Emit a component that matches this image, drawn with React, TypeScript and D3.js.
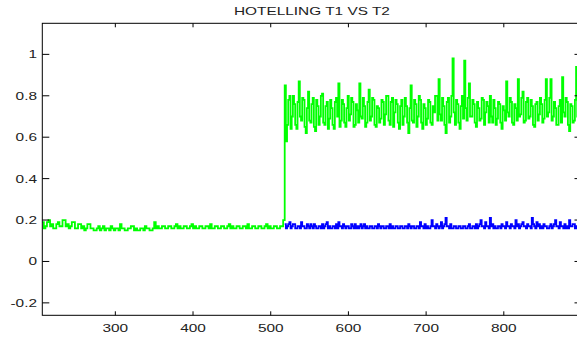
import React from "react";
import * as d3 from "d3";

// Chart size
const width = 577;
const height = 337;

// Samples of the low part of T1 (green), before the shift
const lowStart = 206;
const lowStep = 2;
const greenLow = [
  0.19, 0.16, 0.17, 0.19, 0.2, 0.17, 0.18, 0.16, 0.16, 0.18, 0.19, 0.17, 0.17,
  0.2, 0.2, 0.17, 0.18, 0.16, 0.17, 0.19, 0.19, 0.16, 0.16, 0.18, 0.18, 0.16,
  0.17, 0.15, 0.16, 0.18, 0.18, 0.16, 0.16, 0.15, 0.15, 0.16, 0.17, 0.15, 0.16,
  0.17, 0.15, 0.16, 0.16, 0.15, 0.17, 0.16, 0.15, 0.16, 0.16, 0.15, 0.18, 0.16,
  0.16, 0.15, 0.15, 0.16, 0.16, 0.17, 0.17, 0.15, 0.16, 0.15, 0.15, 0.16, 0.16,
  0.15, 0.17, 0.16, 0.16, 0.15, 0.15, 0.16, 0.19, 0.16, 0.17, 0.16,
  0.16, 0.17, 0.17, 0.16, 0.16, 0.17, 0.17, 0.16, 0.16, 0.17, 0.18, 0.16, 0.17,
  0.16, 0.16, 0.17, 0.17, 0.16, 0.16, 0.17, 0.18, 0.16, 0.17, 0.16, 0.16, 0.17,
  0.17, 0.16, 0.16, 0.17, 0.17, 0.16, 0.18, 0.16, 0.16, 0.17, 0.17, 0.16, 0.16,
  0.17, 0.17, 0.16, 0.16, 0.17, 0.18, 0.16, 0.17, 0.16, 0.16, 0.17, 0.17, 0.16,
  0.16, 0.17, 0.17, 0.16, 0.18, 0.16, 0.16, 0.17, 0.17, 0.16, 0.16, 0.17, 0.17,
  0.16, 0.16, 0.17, 0.18, 0.16, 0.17, 0.16, 0.16, 0.17, 0.17, 0.16, 0.16, 0.17,
  0.17, 0.2,
];

// Samples after the shift (green = T1, blue = T2)
const highStart = 518;
const highStep = 1.5;
const greenHigh = [
  0.85, 0.58, 0.66, 0.78, 0.8, 0.64, 0.7, 0.8, 0.76, 0.66, 0.64, 0.77, 0.87, 0.7, 0.68, 0.79, 0.78, 0.65, 0.62, 0.74,
  0.82, 0.68, 0.67, 0.76, 0.79, 0.65, 0.63, 0.78, 0.75, 0.66, 0.7, 0.8, 0.81, 0.67, 0.66, 0.75, 0.77, 0.64, 0.69, 0.78,
  0.74, 0.66, 0.64, 0.77, 0.79, 0.7, 0.86, 0.65, 0.68, 0.78, 0.76, 0.67, 0.65, 0.74, 0.8, 0.68, 0.71, 0.79, 0.77, 0.65,
  0.66, 0.76, 0.73, 0.67, 0.86, 0.7, 0.69, 0.79, 0.75, 0.65, 0.67, 0.77, 0.83, 0.68, 0.7, 0.79, 0.78, 0.66, 0.65, 0.75,
  0.74, 0.67, 0.69, 0.78, 0.77, 0.66, 0.71, 0.8, 0.8, 0.68, 0.66, 0.77, 0.79, 0.65, 0.72, 0.78, 0.76, 0.67, 0.64, 0.75,
  0.78, 0.66, 0.7, 0.79, 0.75, 0.67, 0.62, 0.74, 0.85, 0.68, 0.67, 0.78, 0.76, 0.65, 0.7, 0.8, 0.78, 0.67, 0.64, 0.76,
  0.74, 0.66, 0.69, 0.78, 0.77, 0.67, 0.66, 0.75, 0.72, 0.8, 0.8, 0.68, 0.88, 0.71, 0.68, 0.79, 0.75, 0.66, 0.62, 0.77,
  0.79, 0.67, 0.7, 0.8, 0.98, 0.72, 0.66, 0.78, 0.76, 0.67, 0.64, 0.75, 0.8, 0.69, 0.97, 0.74, 0.68, 0.79, 0.86, 0.7,
  0.7, 0.78, 0.76, 0.67, 0.65, 0.77, 0.74, 0.68, 0.69, 0.79, 0.78, 0.66, 0.72, 0.77, 0.75, 0.67, 0.8, 0.7, 0.67, 0.78,
  0.74, 0.66, 0.69, 0.77, 0.76, 0.67, 0.64, 0.75, 0.73, 0.68, 0.87, 0.72, 0.7, 0.79, 0.77, 0.67, 0.66, 0.76, 0.74, 0.68,
  0.88, 0.7, 0.71, 0.79, 0.82, 0.67, 0.68, 0.77, 0.79, 0.69, 0.7, 0.78, 0.75, 0.66, 0.65, 0.76, 0.77, 0.68, 0.71, 0.79,
  0.76, 0.67, 0.69, 0.78, 0.88, 0.7, 0.72, 0.79, 0.88, 0.68, 0.7, 0.77, 0.74, 0.66, 0.66, 0.75, 0.78, 0.67, 0.89, 0.72,
  0.7, 0.79, 0.77, 0.66, 0.63, 0.76, 0.75, 0.67, 0.68, 0.78, 0.94, 0.7, 0.7, 0.79, 0.8, 0.68,
];
const blueHigh = [
  0.18, 0.16, 0.17, 0.18, 0.19, 0.16, 0.17, 0.18, 0.18, 0.16, 0.16, 0.17, 0.17, 0.16, 0.19, 0.17, 0.17, 0.16, 0.16, 0.18,
  0.17, 0.16, 0.18, 0.17, 0.16, 0.18, 0.17, 0.16, 0.16, 0.17, 0.17, 0.16, 0.18, 0.16, 0.17, 0.18, 0.19, 0.16, 0.17, 0.16,
  0.16, 0.17, 0.17, 0.16, 0.18, 0.16, 0.19, 0.17, 0.17, 0.16, 0.18, 0.17, 0.16, 0.17, 0.17, 0.16, 0.16, 0.18, 0.17, 0.16,
  0.18, 0.16, 0.17, 0.16, 0.17, 0.18, 0.16, 0.17, 0.18, 0.16, 0.17, 0.16, 0.16, 0.17, 0.17, 0.16, 0.16, 0.17, 0.17, 0.16,
  0.18, 0.17, 0.16, 0.17, 0.17, 0.16, 0.16, 0.17, 0.17, 0.16, 0.18, 0.16, 0.17, 0.16, 0.16, 0.17, 0.17, 0.16, 0.16, 0.17,
  0.17, 0.16, 0.16, 0.17, 0.17, 0.16, 0.18, 0.17, 0.16, 0.17, 0.17, 0.16, 0.16, 0.17, 0.17, 0.16, 0.19, 0.17, 0.17, 0.16,
  0.18, 0.16, 0.17, 0.16, 0.16, 0.17, 0.2, 0.17, 0.17, 0.16, 0.18, 0.17, 0.16, 0.17, 0.19, 0.16, 0.17, 0.18, 0.21, 0.17,
  0.17, 0.16, 0.18, 0.16, 0.16, 0.17, 0.17, 0.16, 0.16, 0.17, 0.17, 0.16, 0.16, 0.17, 0.17, 0.16, 0.16, 0.17, 0.18, 0.16,
  0.16, 0.17, 0.17, 0.16, 0.18, 0.16, 0.17, 0.18, 0.2, 0.17, 0.17, 0.16, 0.19, 0.17, 0.17, 0.16, 0.21, 0.17, 0.18, 0.16,
  0.17, 0.16, 0.16, 0.17, 0.17, 0.16, 0.18, 0.17, 0.17, 0.16, 0.19, 0.17, 0.17, 0.16, 0.18, 0.17, 0.17, 0.16, 0.2, 0.17,
  0.18, 0.16, 0.17, 0.18, 0.19, 0.17, 0.17, 0.16, 0.18, 0.17, 0.17, 0.16, 0.21, 0.18, 0.17, 0.16, 0.19, 0.17, 0.18, 0.16,
  0.17, 0.16, 0.18, 0.17, 0.17, 0.16, 0.16, 0.17, 0.18, 0.16, 0.17, 0.18, 0.2, 0.17, 0.17, 0.16, 0.19, 0.17, 0.17, 0.16,
  0.18, 0.16, 0.17, 0.16, 0.2, 0.17, 0.17, 0.18, 0.18, 0.16, 0.17, 0.16, 0.19, 0.17, 0.18, 0.17,
];

// Axis ticks
const xTicks = [300, 400, 500, 600, 700, 800];
const yTicks = [-0.2, 0, 0.2, 0.4, 0.6, 0.8, 1];
const title = "HOTELLING T1 VS T2";

// plot box (right side runs past the picture edge)
const left = 42.3;
const right = 581.5;
const top = 23.3;
const bottom = 315.3;

const x = d3.scaleLinear().domain([206, 900]).range([left, right]);
const y = d3.scaleLinear().domain([-0.26, 1.15]).range([bottom, top]);

const font = "'Liberation Sans', Arial, Helvetica, sans-serif";
const stretch = "scale(1.4,1)";

export default function App() {
  const greenPts: [number, number][] = greenLow
    .map((v, i) => [lowStart + i * lowStep, v] as [number, number])
    .concat(greenHigh.map((v, i) => [highStart + i * highStep, v] as [number, number]));
  const bluePts: [number, number][] = blueHigh.map(
    (v, i) => [highStart + i * highStep, v] as [number, number]
  );

  const line = d3
    .line<[number, number]>()
    .x((d) => x(d[0]))
    .y((d) => y(d[1]))
    .curve(d3.curveStepAfter);

  return (
    <svg
      width={width}
      height={height}
      style={{ position: "absolute", left: 0, top: 0, background: "#fff" }}
    >
      <defs>
        <clipPath id="plot">
          <rect x={left} y={top} width={right - left} height={bottom - top} />
        </clipPath>
      </defs>
      <rect width={width} height={height} fill="#fff" />

      <g clipPath="url(#plot)">
        <path d={line(bluePts) || ""} fill="none" stroke="#0000ff" strokeWidth={1.8} />
        <path d={line(greenPts) || ""} fill="none" stroke="#00ff00" strokeWidth={1.8} />
      </g>

      {/* box */}
      <rect
        x={left}
        y={top}
        width={right - left}
        height={bottom - top}
        fill="none"
        stroke="#000"
        strokeWidth={1}
      />

      {/* ticks, pointing inward on every side */}
      {xTicks.map((t) => (
        <g key={"xt" + t} stroke="#000" strokeWidth={1}>
          <line x1={x(t)} x2={x(t)} y1={bottom} y2={bottom - 4} />
          <line x1={x(t)} x2={x(t)} y1={top} y2={top + 4} />
        </g>
      ))}
      {yTicks.map((t) => (
        <g key={"yt" + t} stroke="#000" strokeWidth={1}>
          <line x1={left} x2={left + 7} y1={y(t)} y2={y(t)} />
          <line x1={right} x2={right - 7} y1={y(t)} y2={y(t)} />
        </g>
      ))}

      {/* tick labels */}
      <g fontFamily={font} fontSize={11} fill="#222">
        {xTicks.map((t) => (
          <text
            key={"xl" + t}
            transform={`translate(${x(t)},332) ${stretch}`}
            textAnchor="middle"
          >
            {String(t)}
          </text>
        ))}
        {yTicks.map((t) => (
          <text
            key={"yl" + t}
            transform={`translate(37,${y(t) + 4}) ${stretch}`}
            textAnchor="end"
          >
            {String(t)}
          </text>
        ))}
      </g>

      <text
        transform={`translate(${(left + right) / 2},15) ${stretch}`}
        textAnchor="middle"
        fontFamily={font}
        fontSize={11}
        fill="#222"
      >
        {title}
      </text>
    </svg>
  );
}
